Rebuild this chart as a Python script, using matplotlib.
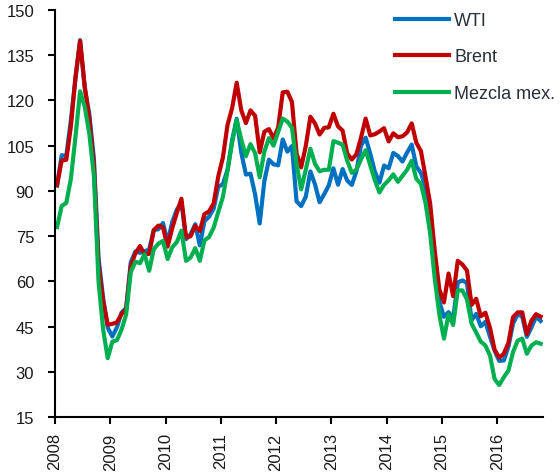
import matplotlib
matplotlib.use("Agg")
import matplotlib.pyplot as plt
import numpy as np

plt.rcParams['font.family'] = ['Liberation Sans', 'DejaVu Sans']

# Month-end prices, Jan 2008 - Oct 2016 (USD per barrel)
wti = [91.75, 101.84, 101.58, 113.46, 127.35, 140.00, 124.08, 115.46, 100.64, 67.81, 54.43, 44.60,
       41.68, 44.76, 49.66, 51.12, 66.31, 69.89, 69.45, 69.96, 70.61, 77.00, 77.28, 79.36,
       72.89, 79.66, 83.76, 86.15, 73.97, 75.63, 78.95, 71.92, 79.97, 81.43, 84.11, 91.38,
       92.19, 96.97, 106.72, 113.93, 102.70, 95.42, 95.70, 88.81, 79.20, 93.19, 100.36, 98.83,
       98.48, 107.07, 103.02, 104.87, 86.53, 84.96, 88.06, 96.47, 92.19, 86.24, 88.91, 91.82,
       97.49, 92.05, 97.23, 93.46, 91.97, 96.56, 105.03, 107.65, 102.33, 96.38, 92.72, 98.42,
       97.49, 102.59, 101.58, 99.74, 102.71, 105.37, 98.17, 95.96, 91.16, 80.54, 66.15, 53.27,
       48.24, 49.76, 47.60, 59.63, 60.30, 59.47, 47.12, 49.20, 45.09, 46.59, 41.65, 37.04,
       33.62, 33.75, 38.34, 45.92, 49.10, 48.33, 41.60, 44.70, 48.24, 46.86]

brent = [92.0, 100.1, 100.3, 111.4, 127.8, 139.8, 124.7, 114.1, 98.2, 65.3, 53.5, 45.6,
         45.9, 46.4, 49.2, 50.8, 65.0, 69.3, 71.7, 69.0, 69.1, 77.0, 78.5, 77.9,
         71.5, 77.6, 82.7, 87.4, 74.6, 75.0, 78.4, 76.7, 82.3, 83.2, 85.9, 94.8,
         101.0, 111.8, 117.4, 125.9, 116.7, 112.5, 116.7, 114.9, 102.8, 109.6, 110.5, 107.4,
         111.0, 122.7, 122.9, 119.5, 102.4, 97.8, 104.9, 114.6, 112.4, 108.7, 110.9, 111.1,
         115.6, 111.4, 110.0, 102.4, 100.4, 102.2, 107.7, 114.0, 108.4, 108.8, 109.7, 110.8,
         106.4, 109.1, 107.8, 108.1, 109.4, 112.4, 106.0, 103.2, 94.7, 85.9, 70.2, 57.3,
         53.0, 62.6, 55.1, 66.8, 65.6, 63.6, 52.2, 54.2, 48.4, 49.6, 44.6, 37.3,
         34.7, 36.0, 39.6, 48.1, 49.7, 49.7, 42.5, 47.0, 49.1, 48.3]

mezcla = [78.0, 85.0, 86.0, 94.0, 108.0, 123.0, 118.0, 109.0, 95.0, 60.0, 44.0, 34.5,
          40.0, 40.5, 44.0, 49.0, 63.0, 66.5, 66.0, 69.0, 63.5, 70.7, 72.5, 73.4,
          67.4, 71.3, 73.0, 76.8, 66.8, 67.9, 71.0, 66.8, 73.6, 74.7, 77.8, 83.0,
          88.0, 96.5, 106.0, 113.5, 107.0, 101.5, 105.5, 102.5, 94.5, 103.0, 107.5, 105.0,
          109.5, 114.0, 113.0, 111.0, 99.0, 90.5, 97.0, 104.0, 99.0, 96.5, 97.0, 97.0,
          106.5, 106.0, 105.3, 100.0, 96.0, 97.0, 100.5, 103.5, 98.5, 93.5, 89.5, 92.0,
          93.5, 95.5, 93.0, 95.0, 97.0, 100.0, 94.0, 92.3, 86.0, 76.0, 61.0, 49.0,
          41.0, 49.0, 45.5, 57.0, 57.0, 54.0, 46.0, 43.0, 40.0, 38.7, 35.4, 27.6,
          25.6, 28.2, 30.4, 36.5, 40.3, 41.0, 36.0, 38.7, 39.8, 39.3]

series_names = ['WTI', 'Brent', 'Mezcla mex.']
series_colors = ['#0070C0', '#C00000', '#00B050']
year_ticks = list(range(2008, 2017))
y_ticks = list(range(15, 151, 15))

t = 2008 + (np.arange(len(wti)) + 0.45) / 12.0

fig = plt.figure(figsize=(5.6, 4.77), dpi=100)
ax = fig.add_axes([55/560, 1 - 418/477, (543 - 55)/560, (418 - 11)/477])

for vals, name, col in zip([wti, brent, mezcla], series_names, series_colors):
    ax.plot(t, vals, color=col, lw=3.0, label=name, solid_joinstyle='round')

ax.set_xlim(2008, 2016.83)
ax.set_ylim(15, 150)
ax.set_yticks(y_ticks)
ax.set_xticks(year_ticks)
ax.set_xticklabels([str(y) for y in year_ticks], rotation=90)

for s in ['top', 'right']:
    ax.spines[s].set_visible(False)
for s in ['left', 'bottom']:
    ax.spines[s].set_linewidth(1.5)
    ax.spines[s].set_color('black')

ax.tick_params(axis='both', direction='out', length=5, width=1.5, labelsize=12,
               labelcolor='#1a1a1a')
ax.tick_params(axis='y', pad=10)
ax.tick_params(axis='x', pad=6)

leg = fig.legend(loc='upper left', bbox_to_anchor=(395/560, 1 - 13/477),
                 frameon=False, fontsize=13, handlelength=3.0, handletextpad=0.28,
                 labelspacing=1.08, borderpad=0, borderaxespad=0)
for txt in leg.get_texts():
    txt.set_color('#262f3b')

fig.savefig('out.png', dpi=100)
